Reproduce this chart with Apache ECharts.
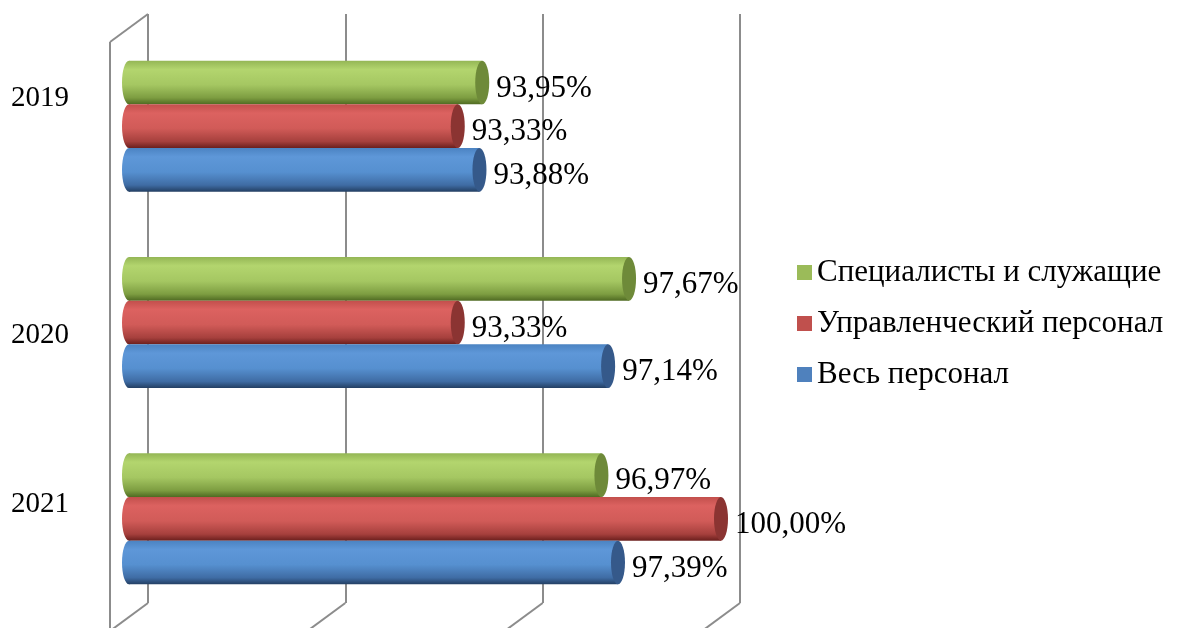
<!DOCTYPE html>
<html>
<head>
<meta charset="utf-8">
<script src="https://cdn.jsdelivr.net/npm/echarts@6/dist/echarts.min.js"></script>
<style>
  html, body { margin: 0; padding: 0; background: #fff; }
  #chart { width: 1177px; height: 628px; }
</style>
</head>
<body>
<div id="chart"></div>
<script>
// Chart data
const years = ['2019', '2020', '2021'];
const seriesNames = ['Специалисты и служащие', 'Управленческий персонал', 'Весь персонал'];
const specialists = [93.95, 97.67, 96.97];
const managers = [93.33, 93.33, 100.00];
const allStaff = [93.88, 97.14, 97.39];
const axisTicks = [85, 90, 95, 100];

// Cylinder colours: legend colour, gradient stops, end-cap colour
const palette = [
    { base: '#9bbb59', cap: '#6e8a39',
      stops: ['#94b655', '#b3d56e', '#a5c762', '#7d9d41', '#4f6a22'] },
    { base: '#c0504d', cap: '#8b3432',
      stops: ['#c24f4c', '#dc6260', '#d15b58', '#a6403d', '#6b1f1d'] },
    { base: '#4f81bd', cap: '#35598a',
      stops: ['#4b83c2', '#5e97d8', '#5690d0', '#3f6ca4', '#233f63'] }
];

const FONT = '"Liberation Serif", "Times New Roman", serif';
const LINE = '#8c8c8c';
const DEPTH = [-38, 28]; // back wall -> front edge offset

function fmt(v) {
    return v.toFixed(2).replace('.', ',') + '%';
}

function cylinderRenderer(k) {
    const p = palette[k];
    return function (params, api) {
        const val = api.value(0);
        const cat = api.value(1);
        const end = api.coord([val, cat]);
        const start = api.coord([axisTicks[0], cat]);
        const band = api.size([0, 1])[1];
        const h = band * 0.667 / 3;
        const top = end[1] - 1.5 * h + k * h;
        const cy = top + h / 2;
        const rx = 7;
        const grad = new echarts.graphic.LinearGradient(0, 0, 0, 1, [
            { offset: 0, color: p.stops[0] },
            { offset: 0.2, color: p.stops[1] },
            { offset: 0.55, color: p.stops[2] },
            { offset: 0.85, color: p.stops[3] },
            { offset: 1, color: p.stops[4] }
        ]);
        return {
            type: 'group',
            children: [
                { type: 'ellipse', shape: { cx: start[0], cy: cy, rx: rx, ry: h / 2 }, style: { fill: grad } },
                { type: 'rect', shape: { x: start[0], y: top, width: end[0] - start[0], height: h }, style: { fill: grad } },
                { type: 'ellipse', shape: { cx: end[0], cy: cy, rx: rx, ry: h / 2 }, style: { fill: p.cap } },
                { type: 'text', style: {
                    text: fmt(val), x: end[0] + 14, y: cy + 6,
                    font: '31px ' + FONT, fill: '#000',
                    align: 'left', verticalAlign: 'middle'
                } }
            ]
        };
    };
}

// Back wall / floor edges of the 3D frame
function frameRenderer(params, api) {
    const v = api.value(0);
    const bottom = api.coord([v, 0]);
    const children = [
        { type: 'line', shape: { x1: bottom[0], y1: bottom[1], x2: bottom[0] + DEPTH[0], y2: bottom[1] + DEPTH[1] },
          style: { stroke: LINE, lineWidth: 2 } }
    ];
    if (v === axisTicks[0]) {
        const top = api.coord([v, 1]);
        children.push(
            { type: 'line', shape: { x1: top[0], y1: top[1], x2: top[0] + DEPTH[0], y2: top[1] + DEPTH[1] },
              style: { stroke: LINE, lineWidth: 2 } },
            { type: 'line', shape: { x1: top[0] + DEPTH[0], y1: top[1] + DEPTH[1], x2: bottom[0] + DEPTH[0], y2: bottom[1] + DEPTH[1] + 10 },
              style: { stroke: LINE, lineWidth: 2 } }
        );
    }
    return { type: 'group', children: children };
}

const yearShift = { '2019': [0, 0, 56, 0], '2020': [26, 0, 0, 0], '2021': [0, 0, 28, 0] };

const chart = echarts.init(document.getElementById('chart'));
const seriesData = [specialists, managers, allStaff];

const option = {
    animation: false,
    backgroundColor: '#fff',
    textStyle: { fontFamily: FONT },
    legend: {
        orient: 'vertical',
        left: 792,
        top: 252,
        icon: 'rect',
        itemWidth: 15,
        itemHeight: 15,
        itemGap: 20,
        textStyle: { fontFamily: FONT, fontSize: 31, color: '#000', lineHeight: 29, padding: [0, 0, 0, 0] },
        data: seriesNames
    },
    grid: [
        { left: 129, right: 456, top: 28, bottom: 11 },
        { left: 148, right: 437, top: 14, bottom: 25 }
    ],
    xAxis: [
        { type: 'value', gridIndex: 0, min: 85, max: 100, interval: 5,
          axisLine: { show: false }, axisTick: { show: false }, axisLabel: { show: false }, splitLine: { show: false } },
        { type: 'value', gridIndex: 1, min: 85, max: 100, interval: 5,
          axisLine: { show: false }, axisTick: { show: false }, axisLabel: { show: false },
          splitLine: { show: true, lineStyle: { color: LINE, width: 2 } } }
    ],
    yAxis: [
        { type: 'category', gridIndex: 0, data: years, inverse: true,
          axisLine: { show: false }, axisTick: { show: false }, splitLine: { show: false },
          axisLabel: {
              margin: 60, fontFamily: FONT, fontSize: 29, color: '#000',
              formatter: function (v) { return '{y' + v + '|' + v + '}'; },
              rich: {
                  y2019: { fontFamily: FONT, fontSize: 29, padding: yearShift['2019'] },
                  y2020: { fontFamily: FONT, fontSize: 29, padding: yearShift['2020'] },
                  y2021: { fontFamily: FONT, fontSize: 29, padding: yearShift['2021'] }
              }
          } },
        { type: 'value', gridIndex: 1, min: 0, max: 1, show: false }
    ],
    series: [
        {
            type: 'custom', name: 'frame', xAxisIndex: 1, yAxisIndex: 1, z: 1, silent: true,
            renderItem: frameRenderer,
            data: axisTicks.map(function (t) { return [t]; })
        }
    ].concat(seriesNames.map(function (name, k) {
        return {
            type: 'custom', name: name, xAxisIndex: 0, yAxisIndex: 0, z: 5 + k,
            itemStyle: { color: palette[k].base },
            renderItem: cylinderRenderer(k),
            encode: { x: 0, y: 1 },
            data: seriesData[k].map(function (v, i) { return [v, i]; })
        };
    }))
};

chart.setOption(option);
window.addEventListener('resize', function () { chart.resize(); });
</script>
</body>
</html>
